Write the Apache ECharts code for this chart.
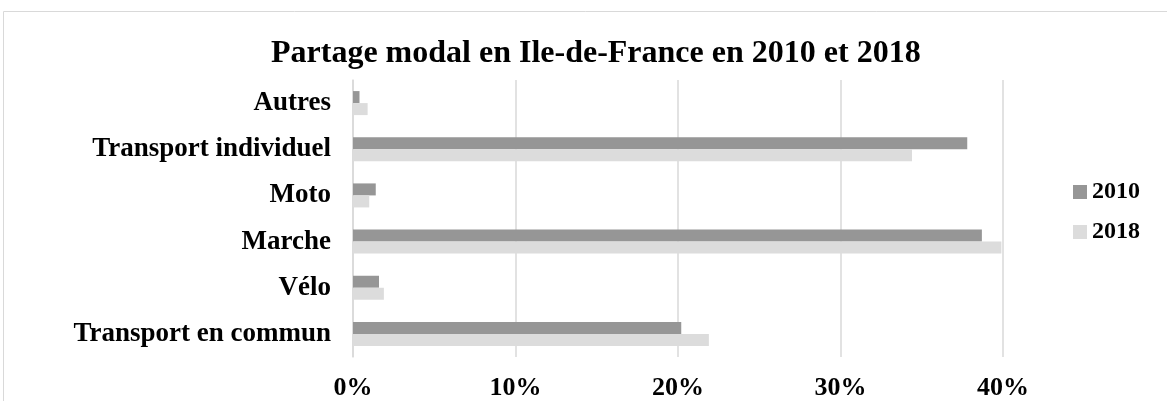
<!DOCTYPE html>
<html>
<head>
<meta charset="utf-8">
<script src="https://cdn.jsdelivr.net/npm/echarts@6/dist/echarts.min.js"></script>
<style>
  html, body { margin: 0; padding: 0; background: #fff; }
  #chart { width: 1167px; height: 401px; }
</style>
</head>
<body>
<div id="chart"></div>
<script>
var categories = ['Transport en commun', 'Vélo', 'Marche', 'Moto', 'Transport individuel', 'Autres']
var values2010 = [20.2, 1.6, 38.7, 1.4, 37.8, 0.4]
var values2018 = [21.9, 1.9, 39.9, 1.0, 34.4, 0.9]
var xTicks = [0, 10, 20, 30, 40]

var serif = '"Liberation Serif", "DejaVu Serif", serif'

var myChart = echarts.init(document.getElementById('chart'))
var option = {
	animation: false,
	title: {
		text: 'Partage modal en Ile-de-France en 2010 et 2018',
		left: 266,
		top: 33,
		textStyle: { fontFamily: serif, fontSize: 32, fontWeight: 'bold', color: '#000' }
	},
	graphic: [{
		type: 'rect',
		shape: { x: 3.5, y: 11.5, width: 1200, height: 420 },
		style: { fill: 'none', stroke: '#d9d9d9', lineWidth: 1 },
		silent: true
	}],
	legend: {
		orient: 'vertical',
		right: 22,
		top: 175,
		itemWidth: 14,
		itemHeight: 14,
		itemGap: 16,
		icon: 'rect',
		textStyle: { fontFamily: serif, fontSize: 24, fontWeight: 'bold', color: '#000' },
		data: ['2010', '2018']
	},
	grid: {
		left: 353,
		right: 164,
		top: 80,
		bottom: 44,
		containLabel: false
	},
	xAxis: {
		type: 'value',
		min: 0,
		max: 40,
		interval: 10,
		axisLine: { show: false },
		axisTick: { show: false },
		splitLine: { lineStyle: { color: '#d9d9d9', width: 1.5 } },
		axisLabel: {
			margin: 18,
			fontFamily: serif,
			fontSize: 26,
			fontWeight: 'bold',
			color: '#000',
			formatter: function (v) { return xTicks.indexOf(v) >= 0 ? v + '%' : '' }
		}
	},
	yAxis: {
		type: 'category',
		data: categories,
		axisLine: { show: true, lineStyle: { color: '#d9d9d9', width: 1.5 } },
		axisTick: { show: false },
		axisLabel: {
			margin: 22,
			fontFamily: serif,
			fontSize: 27,
			fontWeight: 'bold',
			color: '#000'
		}
	},
	series: [{
		name: '2010',
		type: 'bar',
		data: values2010,
		barWidth: 12,
		barGap: '0%',
		itemStyle: { color: '#969696' }
	}, {
		name: '2018',
		type: 'bar',
		data: values2018,
		barWidth: 12,
		barGap: '0%',
		itemStyle: { color: '#dcdcdc' }
	}]
}
myChart.setOption(option)
</script>
</body>
</html>
